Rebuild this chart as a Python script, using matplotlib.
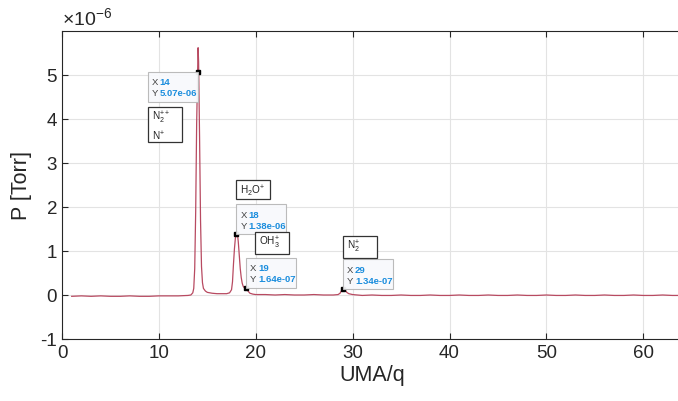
import numpy as np
import matplotlib
matplotlib.use("Agg")
import matplotlib.pyplot as plt
from matplotlib.patches import Rectangle

plt.rcParams['font.family'] = ['Liberation Sans', 'DejaVu Sans']
plt.rcParams['mathtext.fontset'] = 'custom'
plt.rcParams['mathtext.rm'] = 'Liberation Sans'
plt.rcParams['mathtext.it'] = 'Liberation Sans:italic'
plt.rcParams['axes.unicode_minus'] = False

# mass spectrum (P in units of 1e-6 Torr)
mass = [1.0, 2, 3, 4, 5, 6, 7, 8, 9, 10, 11, 12, 13, 13.3, 13.5, 13.6, 13.7,
        13.8, 13.9, 14.0, 14.05, 14.1, 14.2, 14.3, 14.4, 14.5, 14.6, 14.8,
        15.0, 15.5, 16, 16.5, 17, 17.3, 17.5, 17.6, 17.7, 17.8, 17.9, 18.0,
        18.05, 18.1, 18.2, 18.3, 18.4, 18.5, 18.6, 18.7, 18.8, 18.9, 19.0,
        19.1, 19.2, 19.4, 19.7, 20, 21, 22, 23, 24, 25, 26, 27, 28, 28.5,
        28.7, 28.85, 29.0, 29.1, 29.2, 29.4, 29.6, 30, 31, 32, 33, 34, 35,
        36, 37, 38, 39, 40, 41, 42, 43, 44, 45, 46, 47, 48, 49, 50, 51, 52,
        53, 54, 55, 56, 57, 58, 59, 60, 61, 62, 63, 64]
p_e6 = [-0.03, -0.02, -0.03, -0.02, -0.03, -0.03, -0.02, -0.03, -0.03, -0.02,
        -0.02, -0.02, -0.01, 0.0, 0.05, 0.15, 0.6, 1.9, 3.9, 5.07, 5.62, 5.3,
        3.6, 1.7, 0.65, 0.28, 0.15, 0.09, 0.06, 0.04, 0.03, 0.03, 0.03, 0.05,
        0.12, 0.3, 0.7, 1.05, 1.3, 1.38, 1.45, 1.42, 1.2, 0.9, 0.6, 0.4, 0.27,
        0.2, 0.17, 0.165, 0.164, 0.14, 0.09, 0.04, 0.02, 0.01, 0.01, 0.0, 0.01,
        0.0, 0.0, 0.01, 0.0, 0.0, 0.01, 0.04, 0.1, 0.134, 0.14, 0.12, 0.06,
        0.03, 0.01, -0.01, 0.0, -0.01, -0.01, 0.0, -0.01, -0.01, 0.0, -0.01,
        -0.01, 0.0, -0.01, -0.01, 0.0, -0.01, -0.01, 0.0, -0.01, -0.01, 0.0,
        -0.01, -0.01, 0.0, -0.01, -0.01, 0.0, -0.01, -0.01, 0.0, -0.01, -0.01,
        0.0, -0.01, -0.01]

# data tips: x, y in Torr, shown text, corner of the box sitting on the point
tip_x = [14, 18, 19, 29]
tip_y = [5.07e-6, 1.38e-6, 1.64e-7, 1.34e-7]
tip_txt = ['5.07e-06', '1.38e-06', '1.64e-07', '1.34e-07']
tip_corner = ['tr', 'bl', 'bl', 'bl']

# ion labels (one entry per line) and their boxes (left, top, width, height px)
ion_labels = [['N$_2^{++}$', 'N$^{+}$'], ['H$_2$O$^{+}$'], ['OH$_3^{+}$'],
              ['N$_2^{+}$']]
ion_boxes = [(148, 108, 34, 35), (236, 181, 34, 19), (255, 233, 34, 22),
             (343, 237, 34, 22)]

W, H = 678, 402
fig = plt.figure(figsize=(W / 100, H / 100), dpi=100)
ax = fig.add_axes([62 / W, (H - 340) / H, 620 / W, 308 / H])

ax.plot(mass, p_e6, color='#b84a61', lw=0.9)
ax.set_xlim(0, 64)
ax.set_ylim(-1, 6)
ax.set_xticks(range(0, 61, 10))
ax.set_yticks(range(-1, 6))
ax.grid(True, color='#e3e3e3', lw=0.8)
ax.set_axisbelow(True)
ax.tick_params(direction='in', length=4, width=0.8, labelsize=13.5,
               colors='#262626', top=True, right=False)
for s in ['left', 'bottom', 'top']:
    ax.spines[s].set_color('#262626')
    ax.spines[s].set_linewidth(0.8)
ax.spines['right'].set_visible(False)
ax.set_xlabel('UMA/q', fontsize=15.5, color='#262626', labelpad=2)
ax.set_ylabel('P [Torr]', fontsize=15.5, color='#262626', labelpad=6)
fig.text(62 / W, (H - 18) / H, r'$\times10^{-6}$', fontsize=14,
         color='#262626', ha='left', va='center')

fig.canvas.draw()


def fx(px):
    return px / W


def fy(py_top):
    return (H - py_top) / H


bw, bh = 50, 30
for x, y, t, c in zip(tip_x, tip_y, tip_txt, tip_corner):
    px, py = ax.transData.transform((x, y * 1e6))
    py_top = H - py
    if c == 'tr':
        left, top = px - bw, py_top
    else:
        left, top = px, py_top - bh
    fig.patches.append(Rectangle((fx(left), fy(top + bh)), bw / W, bh / H,
                                 transform=fig.transFigure, fc='#f8f9fc',
                                 ec='#b8b8b8', lw=0.8, alpha=0.95, zorder=5))
    fig.text(fx(left + 4), fy(top + 10), 'X', fontsize=6.8, color='#404040',
             va='center', zorder=6)
    fig.text(fx(left + 12), fy(top + 10), str(x), fontsize=6.8,
             color='#1a8ddd', fontweight='bold', va='center', zorder=6)
    fig.text(fx(left + 4), fy(top + 21), 'Y', fontsize=6.8, color='#404040',
             va='center', zorder=6)
    fig.text(fx(left + 12), fy(top + 21), t, fontsize=6.8,
             color='#1a8ddd', fontweight='bold', va='center', zorder=6)
    ax.plot(x, y * 1e6, 's', ms=2.5, color='black', zorder=7)

for lines, (l, t, w, h) in zip(ion_labels, ion_boxes):
    fig.patches.append(Rectangle((fx(l), fy(t + h)), w / W, h / H,
                                 transform=fig.transFigure, fc='white',
                                 ec='#333333', lw=0.9, zorder=5))
    for i, lab in enumerate(lines):
        fig.text(fx(l + 4), fy(t + 10 + 18 * i), lab, fontsize=7.2,
                 color='#222222', va='center', ha='left', zorder=6)

fig.savefig('out.png', dpi=100)
